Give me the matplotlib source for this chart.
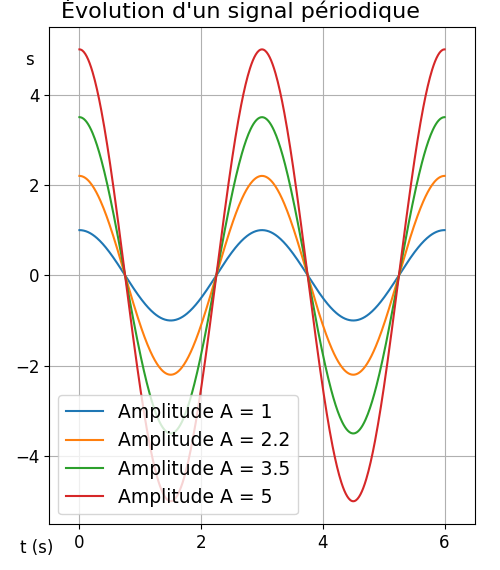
import numpy as np
import matplotlib
matplotlib.use("Agg")
import matplotlib.pyplot as plt

AMPLITUDES = [1, 2.2, 3.5, 5]
PERIODE = 3.0          # période du signal (s)
T_MAX = 6.0
N_POINTS = 500

t = np.linspace(0, T_MAX, N_POINTS)

plt.rcParams["font.size"] = 12

fig = plt.figure(figsize=(5, 5.7), dpi=100)
ax = fig.add_axes([0.098, 0.081, 0.852, 0.872])

for A in AMPLITUDES:
    s = A * np.cos(2 * np.pi * t / PERIODE)
    ax.plot(t, s, label=f"Amplitude A = {A}")

ax.set_xlim(-0.5, 6.5)
ax.set_ylim(-5.5, 5.5)
ax.set_xticks([0, 2, 4, 6])
ax.set_yticks([-4, -2, 0, 2, 4])
ax.grid(True)

# titre un peu décalé vers la gauche comme dans l'original
ax.set_title("Évolution d'un signal périodique", fontsize=16, x=0.45)
ax.set_ylabel("s", rotation=0)
ax.yaxis.set_label_coords(-0.045, 0.915)
ax.set_xlabel("t (s)")
ax.xaxis.set_label_coords(-0.03, -0.03)

ax.legend(loc="lower left", fontsize=13.5)

fig.savefig("out.png", dpi=100)
